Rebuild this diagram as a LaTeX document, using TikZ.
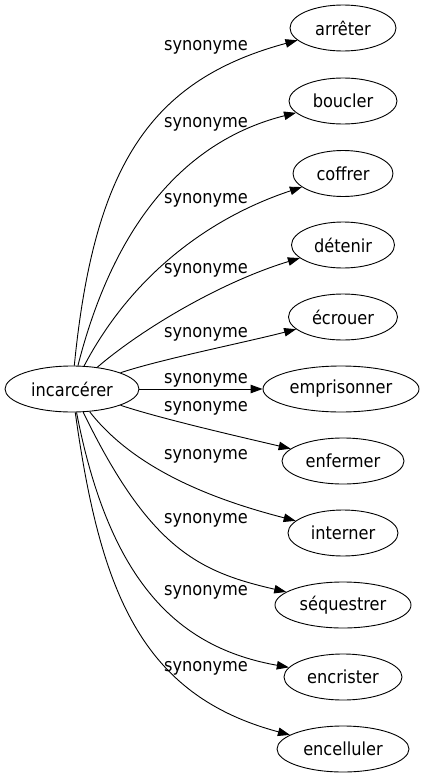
\documentclass[tikz,border=0pt]{standalone}
\usepackage{fontspec}
\setmainfont{DejaVu Sans}[FakeStretch=0.9]
\usetikzlibrary{arrows.meta,shapes.geometric}
\begin{document}
\begin{tikzpicture}[x=1pt,y=-1pt,
  word/.style={ellipse, draw, line width=0.9pt, minimum height=46pt, inner sep=0pt, font=\fontsize{18}{20}\selectfont},
  lab/.style={inner sep=0pt, font=\fontsize{18}{20}\selectfont},
  rel/.style={line width=0.9pt, -{Triangle[length=12pt,width=8.5pt]}}]
\fill[white] (0,0) rectangle (428,779);
\useasboundingbox (0,0) rectangle (428,779);

\node[word, minimum width=134pt] (inc) at (72,389) {incarcérer};
\node[word, minimum width=106pt] (n1) at (343,28) {arrêter};
\node[word, minimum width=108pt] (n2) at (343,101) {boucler};
\node[word, minimum width=100pt] (n3) at (343,173.5) {coffrer};
\node[word, minimum width=103pt] (n4) at (343,245) {détenir};
\node[word, minimum width=109pt] (n5) at (343,317) {écrouer};
\node[word, minimum width=156pt] (n6) at (341,389) {emprisonner};
\node[word, minimum width=122pt] (n7) at (343,461) {enfermer};
\node[word, minimum width=110pt] (n8) at (343,533) {interner};
\node[word, minimum width=136pt] (n9) at (343,605) {séquestrer};
\node[word, minimum width=118pt] (n10) at (343,677) {encrister};
\node[word, minimum width=132pt] (n11) at (343,749) {encelluler};

\node[lab] (l1) at (206,47) {synonyme};
\node[lab] (l2) at (206,124) {synonyme};
\node[lab] (l3) at (206,200) {synonyme};
\node[lab] (l4) at (206,270) {synonyme};
\node[lab] (l5) at (206,334) {synonyme};
\node[lab] (l6) at (206,380) {synonyme};
\node[lab] (l7) at (206,408) {synonyme};
\node[lab] (l8) at (206,456) {synonyme};
\node[lab] (l9) at (206,520) {synonyme};
\node[lab] (l10) at (206,592) {synonyme};
\node[lab] (l11) at (206,668) {synonyme};

\draw[rel] (inc) .. controls (94,166) and (150,80) .. (n1);
\draw[rel] (inc) .. controls (115,220) and (188,140) .. (n2);
\draw[rel] (inc) .. controls (130.5,277.5) and (206.7,218.5) .. (n3);
\draw[rel] (inc) .. controls (142.6,328.3) and (221.9,281.7) .. (n4);
\draw[rel] (inc) .. controls (160.6,359.3) and (247,342) .. (n5);
\draw[rel] (inc) -- (n6);
\draw[rel] (inc) .. controls (160.6,418.7) and (245,438) .. (n7);
\draw[rel] (inc) .. controls (135,470) and (215,500) .. (n8);
\draw[rel] (inc) .. controls (150,550) and (200,572) .. (n9);
\draw[rel] (inc) .. controls (110,585) and (180,648) .. (n10);
\draw[rel] (inc) .. controls (100,590) and (140,695) .. (n11);
\end{tikzpicture}
\end{document}
